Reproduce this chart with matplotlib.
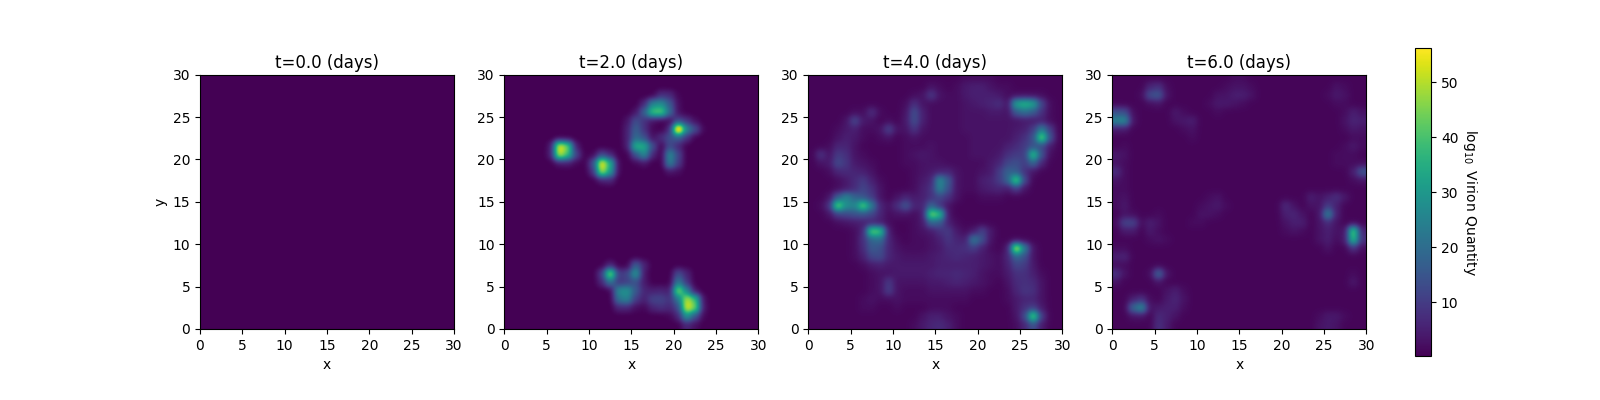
import numpy as np
import matplotlib
matplotlib.use('Agg')
from matplotlib import pyplot as plt

times = [0.0, 2.0, 4.0, 6.0]
cbar_ticks = [10, 20, 30, 40, 50]
vmin = 0.24
vmax = 56.2

# virion grids, one cell per unit, rows from y=29 down to y=0
grid_t0 = [[0] * 30 for _ in range(30)]

grid_t2 = [
    [0] * 30,
    [0] * 30,
    [0,0,0,0,0,0,0,0,0,0, 0,0,0,0,0,0,0,0,8,7, 1,0,0,0,0,0,0,0,0,0],
    [0,0,0,0,0,0,0,0,0,0, 0,0,0,0,0,0,6,26,28,16, 2,0,0,0,0,0,0,0,0,0],
    [0,0,0,0,0,0,0,0,0,0, 0,0,0,0,0,3,18,42,44,20, 2,0,0,0,0,0,0,0,0,0],
    [0,0,0,0,0,0,0,0,0,0, 0,0,0,0,3,14,8,2,0,1, 12,8,2,0,0,0,0,0,0,0],
    [0,0,0,0,0,0,0,0,0,0, 0,0,0,0,5,18,8,1,0,6, 75,26,14,1,0,0,0,0,0,0],
    [0,0,0,0,0,0,0,0,0,0, 0,0,0,0,5,20,14,2,8,14, 16,8,0,0,0,0,0,0,0,0],
    [0,0,0,0,0,3,58,46,4,0, 0,0,0,0,4,38,36,14,0,13, 6,0,0,0,0,0,0,0,0,0],
    [0,0,0,0,0,4,54,40,12,0, 1,12,6,0,0,14,28,6,0,28, 12,0,0,0,0,0,0,0,0,0],
    [0,0,0,0,0,0,3,4,1,0, 14,60,36,1,0,1,3,0,0,26, 10,0,0,0,0,0,0,0,0,0],
    [0,0,0,0,0,0,0,0,0,0, 8,52,32,1,0,0,0,0,0,3, 2,0,0,0,0,0,0,0,0,0],
    [0,0,0,0,0,0,0,0,0,0, 0,4,6,0,0,0,0,0,0,0, 0,0,0,0,0,0,0,0,0,0],
    [0] * 30,
    [0] * 30,
    [0] * 30,
    [0] * 30,
    [0] * 30,
    [0] * 30,
    [0] * 30,
    [0] * 30,
    [0] * 30,
    [0,0,0,0,0,0,0,0,0,0, 0,0,6,0,0,18,6,0,0,0, 0,0,0,0,0,0,0,0,0,0],
    [0,0,0,0,0,0,0,0,0,0, 0,10,52,10,12,32,3,0,0,0, 14,6,0,0,0,0,0,0,0,0],
    [0,0,0,0,0,0,0,0,0,0, 0,6,22,8,10,14,4,0,0,0, 24,8,0,0,0,0,0,0,0,0],
    [0,0,0,0,0,0,0,0,0,0, 0,0,0,28,30,16,6,5,6,4, 50,25,2,0,0,0,0,0,0,0],
    [0,0,0,0,0,0,0,0,0,0, 0,0,0,22,26,10,5,12,12,8, 22,52,40,2,0,0,0,0,0,0],
    [0,0,0,0,0,0,0,0,0,0, 0,0,0,6,6,2,1,6,8,6, 12,56,46,3,0,0,0,0,0,0],
    [0,0,0,0,0,0,0,0,0,0, 0,0,0,0,0,0,0,0,0,1, 6,30,14,1,0,0,0,0,0,0],
    [0,0,0,0,0,0,0,0,0,0, 0,0,0,0,0,0,0,0,0,0, 0,6,2,0,0,0,0,0,0,0],
]

grid_t4 = [
    [1,1,1,1,1,1,1,1,1,1, 1,1,1,1,1,1,1,1,2,2, 2,2,1,1,1,1,1,1,1,1],
    [1,1,1,1,1,1,1,1,1,1, 1,1,1,1,3,2,1,2,4,5, 5,3,2,2,1,1,1,1,1,1],
    [1,1,1,1,1,1,1,1,1,1, 1,1,2,3,10,3,2,2,4,5, 5,5,4,2,2,2,2,2,1,1],
    [1,1,1,1,1,1,1,1,1,1, 1,2,8,3,2,2,2,2,3,4, 5,6,8,3,34,38,34,12,2,1],
    [1,1,1,1,1,2,2,8,2,1, 1,3,14,5,2,2,2,2,3,3, 3,4,4,3,16,20,16,8,2,1],
    [1,1,1,1,3,13,4,3,1,2, 1,4,14,5,2,2,2,2,3,3, 3,3,3,3,3,4,4,5,2,1],
    [1,1,1,2,4,5,2,2,3,12, 3,3,9,3,2,2,2,2,3,3, 3,3,3,3,4,5,10,24,10,1],
    [1,1,1,3,5,4,2,1,2,3, 1,2,3,2,2,2,2,2,2,3, 3,3,3,3,5,8,14,48,14,1],
    [1,1,2,6,6,3,1,1,1,1, 1,2,2,2,3,2,2,2,2,3, 3,3,3,5,7,10,14,12,4,1],
    [1,9,3,10,8,3,2,1,1,1, 1,2,3,4,3,2,2,2,2,3, 3,3,4,8,10,10,42,14,2,1],
    [1,3,4,13,9,4,3,2,1,1, 1,2,2,3,3,3,2,2,2,2, 2,4,6,12,14,10,18,6,1,1],
    [1,1,2,6,7,6,5,3,1,1, 1,1,2,3,4,5,6,3,2,2, 3,4,10,18,16,8,3,1,1,1],
    [1,1,1,2,4,7,10,5,2,1, 1,1,2,4,6,28,16,3,2,2, 5,6,10,18,46,12,1,1,1,1],
    [1,1,1,2,4,7,12,8,3,1, 1,1,2,5,8,26,14,3,2,2, 4,5,6,4,10,3,1,1,1,1],
    [1,1,3,16,26,18,14,10,3,1, 3,6,4,5,8,12,8,3,1,1, 2,2,2,1,1,1,1,1,1,1],
    [1,2,8,48,28,26,46,24,6,3, 8,16,6,6,18,8,3,1,1,1, 1,1,1,1,1,1,1,1,1,1],
    [1,1,3,10,12,14,14,12,6,2, 3,3,2,4,48,40,3,1,1,1, 1,1,1,1,1,1,1,1,1,1],
    [1,1,1,2,3,4,5,5,4,2, 1,1,2,4,18,16,5,2,1,1, 1,1,1,1,1,1,1,1,1,1],
    [1,1,1,1,1,2,6,46,42,4, 1,1,2,3,4,8,10,4,2,4, 12,4,1,1,1,1,1,1,1,1],
    [1,1,1,1,1,2,8,18,20,6, 2,1,2,2,3,5,9,6,5,24, 14,3,1,1,1,1,1,1,1,1],
    [1,1,1,1,1,2,7,16,14,6, 3,2,2,2,3,4,7,7,8,10, 5,2,1,4,58,24,3,1,1,1],
    [1,1,1,1,1,2,5,12,13,6, 4,3,3,3,4,5,6,7,6,5, 4,3,2,6,18,14,3,1,1,1],
    [1,1,1,1,1,1,2,4,5,4, 4,4,4,4,4,5,5,5,5,5, 4,3,2,5,12,10,4,1,1,1],
    [1,1,1,1,1,1,1,2,3,3, 4,4,4,4,5,6,6,7,6,5, 3,2,2,4,8,8,5,2,1,1],
    [1,1,1,1,1,1,1,2,3,10, 3,3,3,3,4,4,5,6,5,4, 3,2,1,3,7,8,7,3,1,1],
    [1,1,1,1,1,1,1,2,3,11, 3,2,2,2,3,3,3,3,3,2, 2,1,1,2,6,9,8,3,1,1],
    [1,1,1,1,1,1,2,3,2,2, 3,2,2,2,2,2,2,2,2,1, 1,1,1,2,4,6,6,3,1,1],
    [1,1,1,1,1,1,2,2,1,1, 2,1,1,1,2,2,2,1,1,1, 1,1,1,1,4,8,10,4,1,1],
    [1,1,1,1,1,1,1,1,1,1, 1,1,1,3,5,5,3,2,1,1, 1,1,1,1,3,12,48,10,1,1],
    [1,1,1,1,1,1,1,1,1,1, 1,1,2,4,6,7,5,2,1,1, 1,1,1,1,2,6,14,4,1,1],
]

grid_t6 = [
    [1,1,1,1,1,1,1,1,1,1, 1,1,1,1,2,2,1,1,1,1, 1,1,1,1,1,1,1,1,1,1],
    [1,1,1,1,6,8,2,1,1,1, 1,1,1,2,3,3,2,1,1,1, 1,1,1,1,1,1,3,2,1,1],
    [1,1,1,2,14,16,3,1,1,1, 1,1,3,3,5,5,3,1,1,1, 1,1,1,1,1,2,4,3,1,1],
    [1,1,1,1,2,3,1,1,1,1, 1,2,4,4,3,2,1,1,1,1, 1,1,1,1,1,1,2,2,1,1],
    [14,14,2,1,1,1,1,4,2,1, 1,1,2,1,1,1,1,1,1,1, 1,1,1,1,1,1,1,2,5,3],
    [26,28,3,1,1,1,1,3,4,5, 1,1,1,1,1,1,1,1,1,1, 1,1,1,1,1,1,1,3,6,5],
    [4,4,1,1,1,1,1,1,2,3, 1,1,1,1,1,1,1,1,1,1, 1,1,1,1,1,1,1,2,4,3],
    [1,1,1,1,1,1,1,1,1,2, 1,1,1,1,1,1,1,1,1,1, 1,1,1,1,1,1,1,1,2,2],
    [1,2,1,1,1,1,1,1,1,1, 1,1,1,1,1,1,1,1,1,1, 1,1,1,1,1,1,1,2,4,2],
    [4,3,1,1,1,1,1,1,1,1, 1,1,1,1,1,1,1,1,1,1, 1,1,1,1,1,1,2,2,2,1],
    [3,2,1,1,1,1,1,1,1,1, 1,1,1,1,1,1,1,1,1,1, 1,1,1,1,1,1,2,2,2,2],
    [8,2,1,1,1,1,1,1,1,1, 1,1,1,1,1,1,1,1,1,1, 1,1,1,1,1,1,1,1,5,16],
    [3,2,1,1,1,1,1,1,1,1, 1,1,1,1,1,1,1,1,1,1, 1,1,1,1,1,1,1,1,2,3],
    [2,2,1,1,1,1,1,1,1,1, 1,1,1,1,1,1,1,1,1,1, 1,1,1,1,1,1,1,1,1,1],
    [2,3,1,1,1,1,1,1,1,1, 1,2,3,1,1,1,1,1,1,1, 1,1,1,5,3,5,8,4,1,1],
    [2,4,1,1,1,1,1,1,1,1, 2,3,4,2,1,1,1,1,1,1, 7,3,1,3,3,10,5,1,1,1],
    [1,3,2,1,1,2,1,1,1,1, 3,3,2,1,1,1,1,1,1,1, 5,6,3,1,3,26,5,1,1,1],
    [2,12,12,2,5,3,1,1,1,2, 2,1,1,1,1,1,1,1,1,1, 3,5,5,1,3,7,3,1,1,1],
    [1,4,4,1,4,2,1,1,1,1, 1,1,1,1,1,1,1,1,1,1, 2,3,2,1,3,5,3,3,46,6],
    [1,1,1,1,2,3,2,1,1,1, 1,1,1,1,1,1,1,1,1,1, 1,1,1,1,3,5,2,4,40,8],
    [2,2,1,1,1,1,1,1,1,1, 1,1,1,1,1,1,1,1,1,1, 1,1,1,1,1,3,1,1,8,2],
    [5,6,1,1,1,1,1,1,1,1, 1,1,1,1,1,1,1,1,1,1, 1,1,1,1,1,1,1,1,1,1],
    [2,2,1,1,1,1,1,1,1,1, 1,1,1,1,1,1,1,1,1,1, 1,1,1,1,1,1,1,1,1,1],
    [9,3,1,1,2,20,3,1,1,1, 1,1,1,1,1,1,1,1,1,1, 1,1,1,1,1,1,1,1,2,1],
    [3,1,1,1,1,3,1,1,1,1, 1,1,1,1,1,1,1,1,1,1, 1,1,1,1,1,1,1,1,4,1],
    [1,1,1,1,1,1,3,5,2,1, 1,1,1,1,1,1,1,1,1,1, 1,1,1,1,1,1,1,1,1,1],
    [1,1,5,8,2,1,4,6,3,1, 1,1,1,1,1,1,1,1,1,1, 1,1,1,1,1,1,1,1,1,1],
    [1,1,20,28,3,4,5,5,2,1, 1,1,1,1,1,1,1,1,1,1, 1,1,1,1,1,1,1,1,1,1],
    [1,1,3,3,1,7,5,3,1,1, 1,1,1,1,1,1,1,1,1,1, 1,1,1,1,2,4,4,2,1,1],
    [1,1,1,1,1,8,4,1,1,1, 1,1,1,1,1,1,1,1,1,1, 1,1,1,1,3,4,3,1,1,1],
]

grids = [grid_t0, grid_t2, grid_t4, grid_t6]
lefts = [200, 504.3, 808.3, 1112.3]

fig = plt.figure(figsize=(16, 4), dpi=100)
for i in range(4):
    ax = fig.add_axes([lefts[i] / 1600, 71 / 400, 254 / 1600, 254.3 / 400])
    # gaussian is smooth without the blocky look of catrom
    im = ax.imshow(np.array(grids[i], dtype=float), extent=[0, 30, 0, 30], cmap='viridis',
                   vmin=vmin, vmax=vmax, interpolation='gaussian', aspect='auto')
    ax.set_xlabel('x')
    if i == 0:
        ax.set_ylabel('y')
    ax.set_title('t=%.1f (days)' % times[i], pad=5)

cax = fig.add_axes([0.8845, 0.11, 0.01, 0.77])
cb = fig.colorbar(im, cax=cax)
cb.set_ticks(cbar_ticks)
cb.set_label(r'$\log_{10}$ Virion Quantity', rotation=270, labelpad=15)

plt.savefig('out.png', dpi=100)
